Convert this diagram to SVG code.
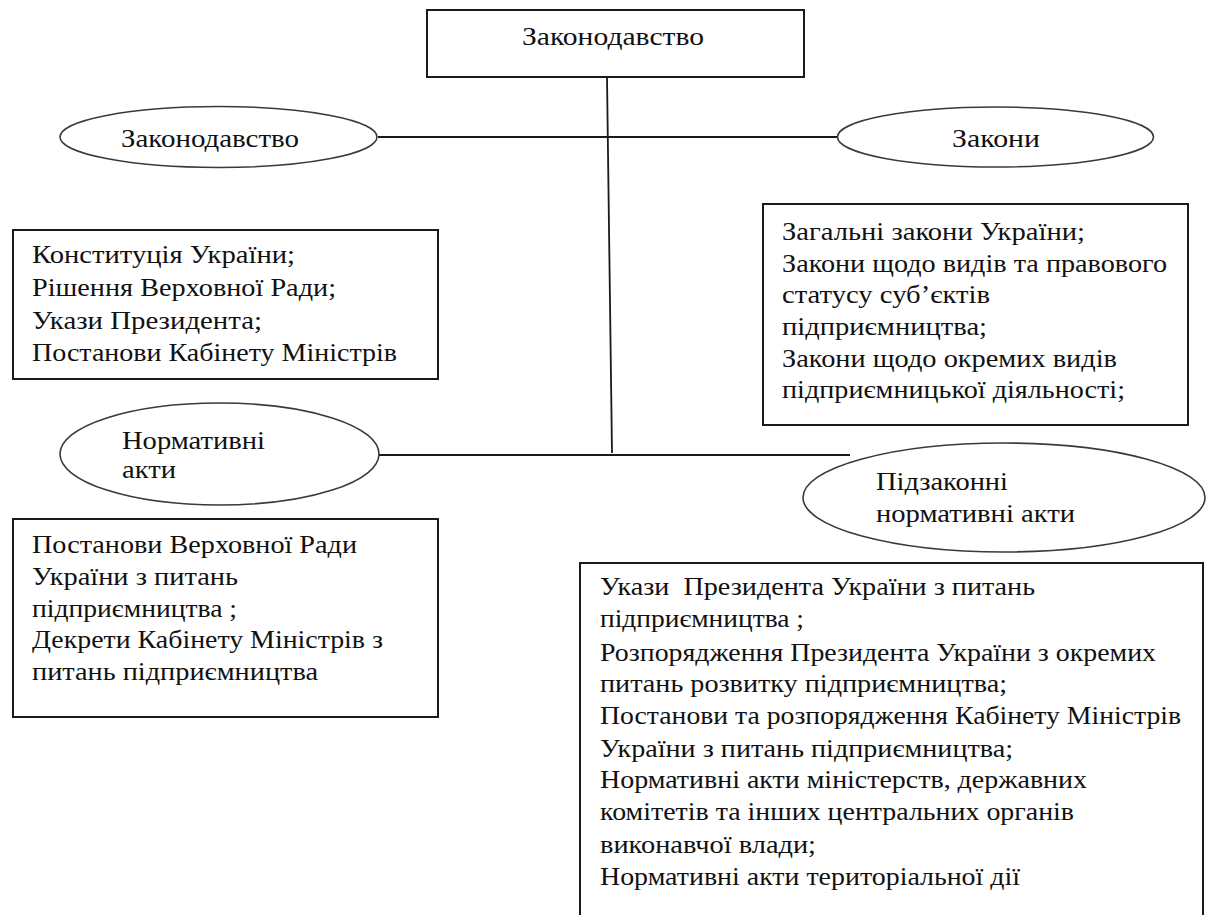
<svg xmlns="http://www.w3.org/2000/svg" width="1213" height="915" viewBox="0 0 1213 915" font-family="Liberation Serif, DejaVu Serif, Times New Roman, serif">
<style>
  .box { fill: #fff; stroke: #1a1a1a; stroke-width: 2; }
  .ell { fill: #fff; stroke: #3a3a3a; stroke-width: 1.6; }
  .ln { stroke: #1a1a1a; stroke-width: 1.8; fill: none; }
  .t { font-family: "Liberation Serif", "DejaVu Serif", serif; font-size: 26px; fill: #111; }
</style>
<rect width="1213" height="915" fill="#fff"/>
<g id="connectors">
  <line class="ln" x1="607" y1="77" x2="612" y2="453"/>
  <line class="ln" x1="378" y1="137" x2="838" y2="137"/>
  <line class="ln" x1="379" y1="455" x2="850" y2="455"/>
</g>
<g id="root">
  <rect class="box" x="427" y="10" width="377" height="67"/>
  <text class="t" x="522" y="45" textLength="182" lengthAdjust="spacingAndGlyphs">Законодавство</text>
</g>
<g id="ell-legislation">
  <ellipse class="ell" cx="218.5" cy="137" rx="158.5" ry="30.5"/>
  <text class="t" x="121" y="147" textLength="178" lengthAdjust="spacingAndGlyphs">Законодавство</text>
</g>
<g id="ell-laws">
  <ellipse class="ell" cx="995.5" cy="137" rx="158" ry="30"/>
  <text class="t" x="952" y="147" textLength="88" lengthAdjust="spacingAndGlyphs">Закони</text>
</g>
<g id="box-legislation">
  <rect class="box" x="13" y="230" width="425" height="149"/>
  <text class="t" x="32" y="263" textLength="263" lengthAdjust="spacingAndGlyphs">Конституція України;</text>
  <text class="t" x="32" y="296" textLength="304" lengthAdjust="spacingAndGlyphs">Рішення Верховної Ради;</text>
  <text class="t" x="32" y="329" textLength="230" lengthAdjust="spacingAndGlyphs">Укази Президента;</text>
  <text class="t" x="32" y="361" textLength="365" lengthAdjust="spacingAndGlyphs">Постанови Кабінету Міністрів</text>
</g>
<g id="box-laws">
  <rect class="box" x="763" y="204" width="425" height="221"/>
  <text class="t" x="782" y="240" textLength="303" lengthAdjust="spacingAndGlyphs">Загальні закони України;</text>
  <text class="t" x="782" y="272" textLength="385" lengthAdjust="spacingAndGlyphs">Закони щодо видів та правового</text>
  <text class="t" x="782" y="303" textLength="208" lengthAdjust="spacingAndGlyphs">статусу суб’єктів</text>
  <text class="t" x="782" y="335" textLength="205" lengthAdjust="spacingAndGlyphs">підприємництва;</text>
  <text class="t" x="782" y="367" textLength="335" lengthAdjust="spacingAndGlyphs">Закони щодо окремих видів</text>
  <text class="t" x="782" y="398" textLength="343" lengthAdjust="spacingAndGlyphs">підприємницької діяльності;</text>
</g>
<g id="ell-normative">
  <ellipse class="ell" cx="219.5" cy="454" rx="159.5" ry="51"/>
  <text class="t" x="122" y="449" textLength="143" lengthAdjust="spacingAndGlyphs">Нормативні</text>
  <text class="t" x="122" y="478" textLength="54" lengthAdjust="spacingAndGlyphs">акти</text>
</g>
<g id="ell-bylaws">
  <ellipse class="ell" cx="1004" cy="497.5" rx="201" ry="54.5"/>
  <text class="t" x="876" y="490" textLength="132" lengthAdjust="spacingAndGlyphs">Підзаконні</text>
  <text class="t" x="876" y="522" textLength="199" lengthAdjust="spacingAndGlyphs">нормативні акти</text>
</g>
<g id="box-normative">
  <rect class="box" x="13" y="519" width="425" height="198"/>
  <text class="t" x="32" y="553" textLength="325" lengthAdjust="spacingAndGlyphs">Постанови Верховної Ради</text>
  <text class="t" x="32" y="585" textLength="206" lengthAdjust="spacingAndGlyphs">України з питань</text>
  <text class="t" x="32" y="617" textLength="205" lengthAdjust="spacingAndGlyphs">підприємництва ;</text>
  <text class="t" x="32" y="648" textLength="351" lengthAdjust="spacingAndGlyphs">Декрети Кабінету Міністрів з</text>
  <text class="t" x="32" y="680" textLength="286" lengthAdjust="spacingAndGlyphs">питань підприємництва</text>
</g>
<g id="box-bylaws">
  <rect class="box" x="580" y="563" width="623" height="362"/>
  <text class="t" x="600" y="595" textLength="435" lengthAdjust="spacingAndGlyphs" xml:space="preserve">Укази  Президента України з питань</text>
  <text class="t" x="600" y="627" textLength="204" lengthAdjust="spacingAndGlyphs">підприємництва ;</text>
  <text class="t" x="600" y="661" textLength="556" lengthAdjust="spacingAndGlyphs">Розпорядження Президента України з окремих</text>
  <text class="t" x="600" y="692" textLength="407" lengthAdjust="spacingAndGlyphs">питань розвитку підприємництва;</text>
  <text class="t" x="600" y="724" textLength="581" lengthAdjust="spacingAndGlyphs">Постанови та розпорядження Кабінету Міністрів</text>
  <text class="t" x="600" y="757" textLength="413" lengthAdjust="spacingAndGlyphs">України з питань підприємництва;</text>
  <text class="t" x="600" y="788" textLength="487" lengthAdjust="spacingAndGlyphs">Нормативні акти міністерств, державних</text>
  <text class="t" x="600" y="820" textLength="474" lengthAdjust="spacingAndGlyphs">комітетів та інших центральних органів</text>
  <text class="t" x="600" y="853" textLength="216" lengthAdjust="spacingAndGlyphs">виконавчої влади;</text>
  <text class="t" x="600" y="885" textLength="420" lengthAdjust="spacingAndGlyphs">Нормативні акти територіальної дії</text>
</g>
</svg>
